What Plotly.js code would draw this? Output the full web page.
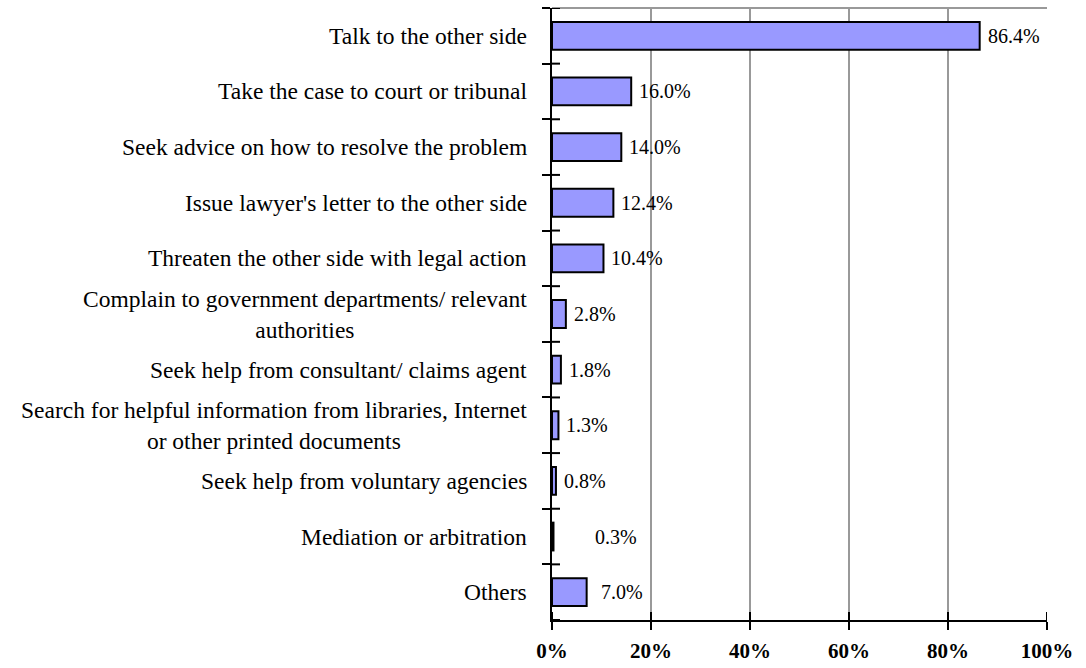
<!DOCTYPE html>
<html>
<head>
<meta charset="utf-8">
<script src="https://cdn.plot.ly/plotly-3.0.1.min.js"></script>
<style>html,body{margin:0;padding:0;background:#fff;}#chart{width:1086px;height:668px;}</style>
</head>
<body>
<div id="chart"></div>
<script>
const categories = [
  "Talk to the other side",
  "Take the case to court or tribunal",
  "Seek advice on how to resolve the problem",
  "Issue lawyer's letter to the other side",
  "Threaten the other side with legal action",
  "Complain to government departments/ relevant<br>authorities",
  "Seek help from consultant/ claims agent",
  "Search for helpful information from libraries, Internet<br>or other printed documents",
  "Seek help from voluntary agencies",
  "Mediation or arbitration",
  "Others"
];
const values = [0.864, 0.160, 0.140, 0.124, 0.104, 0.028, 0.018, 0.013, 0.008, 0.003, 0.070];
const valueLabels = ["86.4%", "16.0%", "14.0%", "12.4%", "10.4%", "2.8%", "1.8%", "1.3%", "0.8%", "0.3%", "7.0%"];
const xTicks = [0, 0.2, 0.4, 0.6, 0.8, 1.0];
const xTickText = ["0%", "20%", "40%", "60%", "80%", "100%"];

const labelShift = {9: 40, 10: 12};
const FONT = "Liberation Serif, Times New Roman, serif";

const trace = {
  type: "bar",
  orientation: "h",
  y: categories,
  x: values,
  width: 0.5,
  marker: {color: "#9999FF", line: {color: "#000000", width: 2}},
  hoverinfo: "skip"
};

const annotations = [];
categories.forEach((c, i) => {
  annotations.push({
    xref: "paper", yref: "y", x: 0, y: c, xanchor: "right", yanchor: "middle",
    xshift: -23, text: c, showarrow: false, align: "center",
    font: {family: FONT, size: 23.5, color: "#000"}
  });
  annotations.push({
    xref: "x", yref: "y", x: values[i], y: c, xanchor: "left", yanchor: "middle",
    xshift: (labelShift[i] !== undefined ? labelShift[i] : 6), text: valueLabels[i], showarrow: false,
    font: {family: FONT, size: 20, color: "#000"}
  });
});

const shapes = [];
shapes.push({type: "line", xref: "paper", yref: "paper", x0: 0, x1: 1, y0: 1, y1: 1, line: {color: "#999999", width: 2}});
xTicks.forEach(v => {
  shapes.push({type: "line", xref: "x", yref: "paper", ysizemode: "pixel", yanchor: 0, x0: v, x1: v, y0: 0, y1: 8, line: {color: "#000", width: 2}});
});
for (let i = 0; i <= categories.length; i++) {
  shapes.push({type: "line", xref: "paper", yref: "y", xsizemode: "pixel", xanchor: 0, x0: 0, x1: 8, y0: i - 0.5, y1: i - 0.5, line: {color: "#000", width: 2}});
}

const layout = {
  width: 1086, height: 668,
  margin: {l: 551.5, r: 38.5, t: 8, b: 48},
  paper_bgcolor: "#fff", plot_bgcolor: "#fff",
  showlegend: false,
  xaxis: {
    range: [0, 1], tickvals: xTicks, ticktext: xTickText,
    ticks: "outside", ticklen: 8, tickwidth: 2, tickcolor: "#000",
    ticklabelstandoff: 3,
    showline: true, linecolor: "#000", linewidth: 2,
    showgrid: true, gridcolor: "#999999", gridwidth: 2,
    zeroline: false,
    tickfont: {family: FONT, size: 21, color: "#000", weight: "bold"},
    fixedrange: true
  },
  yaxis: {
    type: "category", range: [10.5, -0.5],
    showticklabels: false,
    ticks: "outside", tickson: "boundaries", ticklen: 8, tickwidth: 2, tickcolor: "#000",
    showline: true, linecolor: "#000", linewidth: 2,
    showgrid: false, zeroline: false, fixedrange: true
  },
  annotations: annotations,
  shapes: shapes
};

Plotly.newPlot("chart", [trace], layout, {displayModeBar: false, staticPlot: true});
</script>
</body>
</html>
